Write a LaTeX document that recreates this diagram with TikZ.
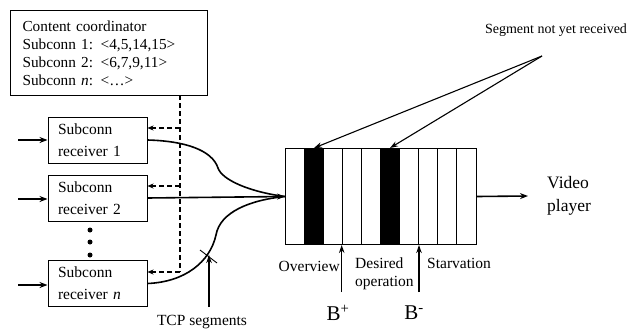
\documentclass[tikz,border=0pt]{standalone}
\usepackage{fontspec}
\setmainfont{Liberation Serif}
\usetikzlibrary{arrows.meta}
\begin{document}
\begin{tikzpicture}[x=1pt,y=-1pt,
  box/.style={draw, line width=1pt},
  arr/.style={-{Stealth[length=8pt,width=6pt]}, line width=1.6pt},
  tarr/.style={-{Stealth[length=8pt,width=5.5pt]}, line width=1.1pt},
  dsh/.style={line width=1.2pt, dash pattern=on 5pt off 3pt},
  darr/.style={dsh, -{Stealth[length=6pt,width=5pt]}},
  lbl/.style={font=\fontsize{15.5}{18}\selectfont, inner sep=0pt, align=left},
  recv/.style={box, minimum width=99pt, minimum height=46pt, text width=79pt, align=left, inner xsep=10pt, font=\fontsize{15.5}{22}\selectfont},
]
\useasboundingbox (0,0) rectangle (629,329);

% content coordinator
\node (coord) [box, anchor=north west, minimum width=197pt, minimum height=85pt,
  text width=173pt, align=left, inner xsep=12pt, inner ysep=0pt,
  font=\fontsize{15.3}{18}\selectfont] at (10,10)
  {Content coordinator\\Subconn 1: <4,5,14,15>\\Subconn 2: <6,7,9,11>\\Subconn \textit{n}: <\ldots>};

% receivers
\node (r1) [recv] at (97.5,140) {Subconn\\receiver 1};
\node (r2) [recv] at (97.5,198) {Subconn\\receiver 2};
\node (rn) [recv] at (97.5,283.5) {Subconn\\receiver \textit{n}};

\fill (90,230) circle (2.5pt);
\fill (90,242) circle (2.5pt);
\fill (90,255) circle (2.5pt);

% inputs
\coordinate (i1) at (18,140);
\coordinate (i2) at (18,199);
\coordinate (in) at (18,285);
\draw[arr] (i1) -- (r1.west|-i1);
\draw[arr] (i2) -- (r2.west|-i2);
\draw[arr] (in) -- (rn.west|-in);

% dashed control
\coordinate (d0) at (180,95);
\coordinate (d1) at (180,128);
\coordinate (d2) at (180,186);
\coordinate (dn) at (180,272);
\draw[dsh] (d0) -- (dn);
\draw[darr] (d1) -- (r1.east|-d1);
\draw[darr] (d2) -- (r2.east|-d2);
\draw[darr] (dn) -- (rn.east|-dn);

% buffer
\node (buf) [box, anchor=north west, minimum width=191pt, minimum height=96pt] at (285,148) {};
\fill (304.1,148) rectangle (323.2,244);
\fill (380.5,148) rectangle (399.6,244);
\foreach \i in {1,...,9}
  \draw[line width=1pt] (285+\i*19.1,148) -- (285+\i*19.1,244);

% merging curves
\draw[line width=1.6pt] (r1.east) .. controls (185,141) and (212,150) .. (218,168)
  .. controls (222,180) and (250,192) .. (buf.west);
\draw[arr] (r2.east) -- (buf.west);
\draw[line width=1.6pt] (rn.east) .. controls (185,282) and (210,262) .. (216,235)
  .. controls (220,212) and (250,200) .. (buf.west);

% TCP segments
\node (tcp) [lbl] at (202,322) {TCP segments};
\coordinate (ta) at (209,307);
\coordinate (tb) at (209,255);
\draw[tarr] (ta) -- (tb);
\coordinate (k1) at (200,250);
\coordinate (k2) at (217,263);
\draw[line width=0.9pt] (k1) -- (k2);

% output
\node (vp) [anchor=west, inner sep=0pt, align=left, font=\fontsize{17.5}{23}\selectfont] at (547,196) {Video\\player};
\draw[arr] (buf.east) -- ([xshift=-19pt]vp.west);

% segment not yet received
\node (snr) [inner sep=0pt, font=\fontsize{14}{16}\selectfont] at (556,30) {Segment not yet received};
\coordinate (sp) at (542,56);
\coordinate (c1) at (314,148);
\coordinate (c5) at (390,148);
\draw[tarr] (sp) -- (c1);
\draw[tarr] (sp) -- (c5);

% thresholds
\node (bp) [inner sep=0pt, font=\fontsize{21}{24}\selectfont] at (338,313) {B\textsuperscript{+}};
\node (bm) [inner sep=0pt, font=\fontsize{21}{24}\selectfont] at (414,313) {B\textsuperscript{-}};
\coordinate (bpa) at (341.7,292);
\coordinate (bma) at (419,292);
\draw[tarr] (bpa) -- (bpa|-buf.south);
\draw[tarr] (bma) -- (bma|-buf.south);

\node (ov) [lbl, anchor=east] at (340,266) {Overview};
\node (dop) [lbl, anchor=west] at (355,274) {Desired\\operation};
\node (st) [lbl, anchor=west] at (427,263) {Starvation};
\end{tikzpicture}
\end{document}
